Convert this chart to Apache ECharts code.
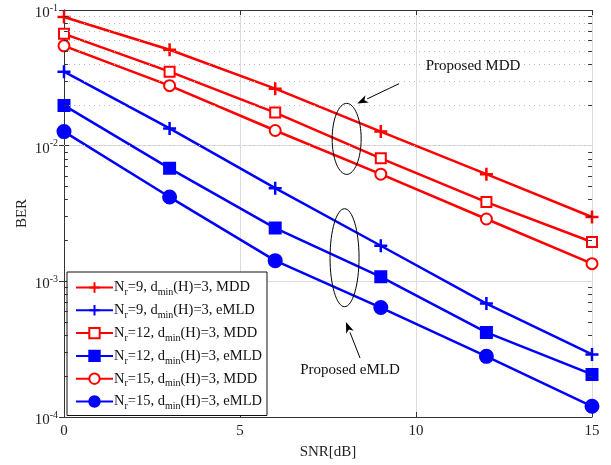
<!DOCTYPE html>
<html>
<head>
<meta charset="utf-8">
<script src="https://cdn.jsdelivr.net/npm/echarts@6/dist/echarts.min.js"></script>
<style>html,body{margin:0;padding:0;background:#fff}#c{width:611px;height:465px}</style>
</head>
<body>
<div id="c"></div>
<script>
// ---- data ----
const snr = [0, 3, 6, 9, 12, 15];
const mdd9   = [0.0889, 0.0509, 0.0263, 0.0127, 0.00616, 0.00298];
const emld9  = [0.0351, 0.0134, 0.00486, 0.00183, 0.000685, 0.000289];
const mdd12  = [0.0667, 0.0351, 0.01754, 0.00807, 0.00384, 0.00195];
const emld12 = [0.0198, 0.00681, 0.00247, 0.00108, 0.00042, 0.000206];
const mdd15  = [0.0544, 0.0277, 0.01294, 0.00616, 0.00288, 0.00135];
const emld15 = [0.0127, 0.00418, 0.00142, 0.000641, 0.00028, 0.000120];
const xTicks = [0, 5, 10, 15];
const yDecades = [-4, -3, -2, -1];
const seriesNames = [
  'N{sub|r}=9, d{sub|min}(H)=3, MDD',
  'N{sub|r}=9, d{sub|min}(H)=3, eMLD',
  'N{sub|r}=12, d{sub|min}(H)=3, MDD',
  'N{sub|r}=12, d{sub|min}(H)=3, eMLD',
  'N{sub|r}=15, d{sub|min}(H)=3, MDD',
  'N{sub|r}=15, d{sub|min}(H)=3, eMLD'
];
// annotation anchors in data coordinates [snr, BER]
const mddEllipse = [8.03, 0.01122];
const mddArrowFrom = [9.52, 0.02864];
const mddArrowTo = [8.33, 0.02042];
const mddText = [11.62, 0.0388];
const emldEllipse = [7.97, 0.001493];
const emldArrowFrom = [8.41, 0.000272];
const emldArrowTo = [8.01, 0.000501];
const emldText = [8.125, 0.000221];

const RED = '#ff0000', BLUE = '#0000ff';
const FONT = 'Liberation Serif';
const plusPath = 'path://M5,0L5,10M0,5L10,5';

function mk(name, data, color, symbol, size, filled) {
  return {
    name: name, type: 'line', data: snr.map((x, i) => [x, data[i]]),
    symbol: symbol, symbolSize: size, showSymbol: true,
    lineStyle: { color: color, width: 2.5 },
    itemStyle: { color: filled ? color : '#fff', borderColor: color, borderWidth: 2 },
    emphasis: { disabled: true }, z: 3
  };
}
const series = [
  mk(seriesNames[0], mdd9, RED, plusPath, 13, true),
  mk(seriesNames[1], emld9, BLUE, plusPath, 13, true),
  mk(seriesNames[2], mdd12, RED, 'rect', 10, false),
  mk(seriesNames[3], emld12, BLUE, 'rect', 11, true),
  mk(seriesNames[4], mdd15, RED, 'circle', 11, false),
  mk(seriesNames[5], emld15, BLUE, 'circle', 13, true)
];
series[0].itemStyle.borderWidth = 2.5;
series[1].itemStyle.borderWidth = 2.5;

// minor grid lines & minor ticks
const minorVals = [];
yDecades.slice(0, 3).forEach(e => { for (let m = 2; m <= 9; m++) minorVals.push(m * Math.pow(10, e)); });
const mlData = [];
minorVals.forEach(v => mlData.push({ yAxis: v }));
const tickData = [];
minorVals.forEach(v => {
  tickData.push([{ coord: [0, v] }, { coord: [0.11, v] }]);
  tickData.push([{ coord: [14.89, v] }, { coord: [15, v] }]);
});
series.push({
  type: 'line', data: [], silent: true,
  markLine: { silent: true, symbol: 'none', label: { show: false }, animation: false,
    lineStyle: { type: [1, 4], color: '#bdbdbd', width: 1 }, data: mlData }, z: 1
});
series.push({
  type: 'line', data: [], silent: true,
  markLine: { silent: true, symbol: 'none', label: { show: false }, animation: false,
    lineStyle: { type: 'solid', color: '#333', width: 1 }, data: tickData }, z: 5
});

const axisCommon = {
  axisLine: { show: true, lineStyle: { color: '#333', width: 1 } },
  axisTick: { show: true, inside: true, length: 5, lineStyle: { color: '#333' } }
};

const chart = echarts.init(document.getElementById('c'), null, { renderer: 'canvas' });
chart.setOption({
  animation: false,
  backgroundColor: '#fff',
  grid: { left: 64, right: 19, top: 10, bottom: 46 },
  textStyle: { fontFamily: FONT },
  xAxis: [{
    type: 'value', min: 0, max: 15, interval: 5, position: 'bottom',
    name: 'SNR[dB]', nameLocation: 'middle', nameGap: 28, nameMoveOverlap: false,
    nameTextStyle: { fontFamily: FONT, fontSize: 15, color: '#222' },
    axisLabel: { fontFamily: FONT, fontSize: 15, color: '#222', margin: 7 },
    splitLine: { show: true, lineStyle: { color: '#dcdcdc', width: 1 } },
    ...axisCommon
  }, {
    type: 'value', min: 0, max: 15, interval: 5, position: 'top',
    axisLabel: { show: false }, splitLine: { show: false }, ...axisCommon
  }],
  yAxis: [{
    type: 'log', logBase: 10, min: 1e-4, max: 1e-1, position: 'left',
    name: 'BER', nameLocation: 'middle', nameGap: 34, nameMoveOverlap: false,
    nameTextStyle: { fontFamily: FONT, fontSize: 15, color: '#222' },
    axisLabel: {
      fontFamily: FONT, fontSize: 15, color: '#222', margin: 6,
      formatter: v => '{b|10}{sup|' + Math.round(Math.log10(v)) + '}',
      rich: {
        b: { fontFamily: FONT, fontSize: 15, color: '#222', padding: [6, 0, 0, 0] },
        sup: { fontFamily: FONT, fontSize: 10, color: '#222', padding: [0, 0, 4, 0] }
      }
    },
    splitLine: { show: true, lineStyle: { color: '#dcdcdc', width: 1 } },
    ...axisCommon
  }, {
    type: 'log', logBase: 10, min: 1e-4, max: 1e-1, position: 'right',
    axisLabel: { show: false }, splitLine: { show: false }, ...axisCommon
  }],
  legend: {
    orient: 'vertical', left: 67, top: 272,
    backgroundColor: '#fff', borderColor: '#111', borderWidth: 1, borderRadius: 0,
    padding: [8, 5, 4, 8], itemWidth: 37, itemHeight: 13, itemGap: 5.3,
    textStyle: {
      fontFamily: FONT, fontSize: 14.5, color: '#111', padding: [0, 0, 0, -4],
      rich: { sub: { fontFamily: FONT, fontSize: 10, color: '#111', padding: [10, 0, 0, 0] } }
    },
    data: seriesNames
  },
  series: series
});

function px(p) { return chart.convertToPixel({ xAxisIndex: 0, yAxisIndex: 0 }, p); }
function arrow(from, to) {
  const a = px(from), b = px(to);
  const dx = b[0] - a[0], dy = b[1] - a[1], L = Math.hypot(dx, dy);
  const ux = dx / L, uy = dy / L, hl = 11, hw = 4;
  const bx = b[0] - ux * hl, by = b[1] - uy * hl;
  return [
    { type: 'line', shape: { x1: a[0], y1: a[1], x2: bx, y2: by }, style: { stroke: '#000', lineWidth: 1 }, z: 10 },
    { type: 'polygon', shape: { points: [[b[0], b[1]], [bx - uy * hw, by + ux * hw], [bx + ux * 3, by + uy * 3], [bx + uy * hw, by - ux * hw]] }, style: { fill: '#000' }, z: 10 }
  ];
}
const e1 = px(mddEllipse), e2 = px(emldEllipse), t1 = px(mddText), t2 = px(emldText);
chart.setOption({
  graphic: [
    { type: 'ellipse', shape: { cx: e1[0], cy: e1[1], rx: 14.5, ry: 35.5 }, style: { fill: 'none', stroke: '#000', lineWidth: 1 }, z: 10 },
    { type: 'ellipse', shape: { cx: e2[0], cy: e2[1], rx: 14.5, ry: 49 }, style: { fill: 'none', stroke: '#000', lineWidth: 1 }, z: 10 },
    ...arrow(mddArrowFrom, mddArrowTo),
    ...arrow(emldArrowFrom, emldArrowTo),
    { type: 'text', x: t1[0], y: t1[1], style: { text: 'Proposed MDD', font: '15px "Liberation Serif"', fill: '#111', align: 'center', verticalAlign: 'middle' }, z: 10 },
    { type: 'text', x: t2[0], y: t2[1], style: { text: 'Proposed eMLD', font: '15px "Liberation Serif"', fill: '#111', align: 'center', verticalAlign: 'middle' }, z: 10 }
  ]
});
</script>
</body>
</html>
